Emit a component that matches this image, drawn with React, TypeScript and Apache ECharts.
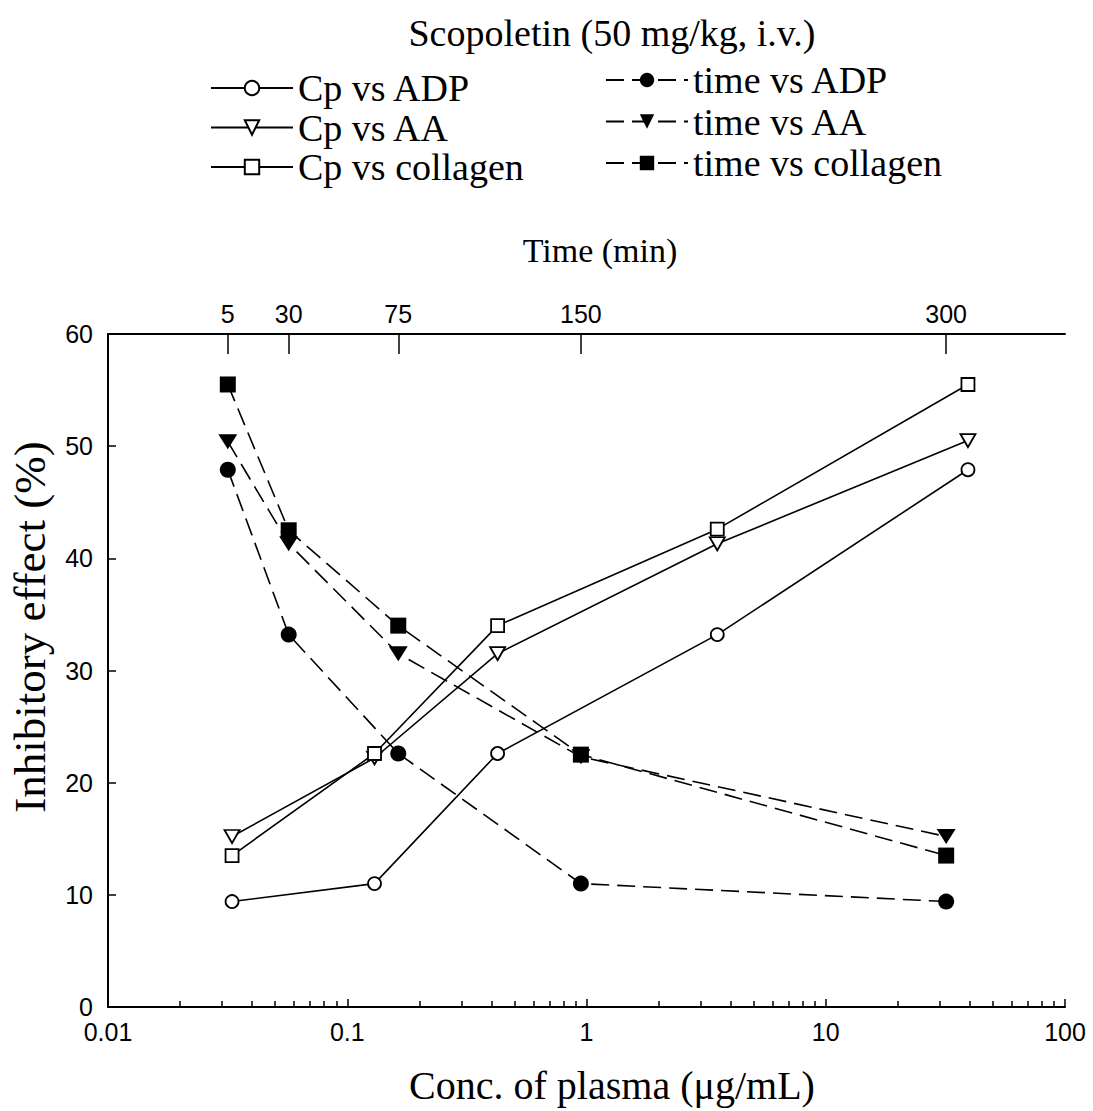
import React, { useEffect, useRef } from "react";
import * as echarts from "echarts";

// ---- data ----
const CONC = [0.033, 0.13, 0.425, 3.52, 39.3]; // plasma concentration (ug/mL)
const TIME = [5, 30, 75, 150, 300]; // min
const CP_ADP = [9.4, 11.0, 22.6, 33.2, 47.9];
const CP_AA = [15.2, 22.2, 31.5, 41.3, 50.5];
const CP_COLLAGEN = [13.5, 22.6, 34.0, 42.6, 55.5];
const TIME_ADP = [47.9, 33.2, 22.6, 11.0, 9.4];
const TIME_AA = [50.4, 41.3, 31.5, 22.3, 15.2];
const TIME_COLLAGEN = [55.5, 42.5, 34.0, 22.5, 13.5];

const X_TICK_LABELS = ["0.01", "0.1", "1", "10", "100"];
const TIME_TICKS = [5, 30, 75, 150, 300];
const DECADES = [0.01, 0.1, 1, 10];
const MINOR_MULTIPLIERS = [2, 3, 4, 5, 6, 7, 8, 9];

const TITLE = "Scopoletin (50 mg/kg, i.v.)";
const X_TITLE = "Conc. of plasma (\u03bcg/mL)";
const X2_TITLE = "Time (min)";
const Y_TITLE = "Inhibitory effect (%)";

const SERIF = '"Liberation Serif", "Times New Roman", serif';
const SANS = '"Liberation Sans", Arial, sans-serif';

export default function App() {
  const ref = useRef<HTMLDivElement>(null);
  useEffect(() => {
    if (!ref.current) return;
    const chart = echarts.init(ref.current, undefined, { renderer: "svg" });
    const axisLine = { show: true, onZero: false, lineStyle: { color: "#000", width: 2 } };
    const tickStyle = { color: "#000", width: 1.5 };
    const labelStyle = { color: "#000", fontSize: 25, fontFamily: SANS };
    const minorTicks = DECADES.flatMap((d) => MINOR_MULTIPLIERS.map((m) => Math.log10(d * m)));

    const pair = (xs: number[], ys: number[]) => xs.map((x, i) => [x, ys[i]]);

    const openStyle = { color: "#fff", borderColor: "#000", borderWidth: 1.8 };
    const solid = { color: "#000", width: 1.6, type: "solid" as const };
    const dashed = { color: "#000", width: 1.6, type: [18, 8] as any };

    const cpSeries = (name: string, ys: number[], symbol: string, size: any, rot = 0) => ({
      name,
      type: "line",
      xAxisIndex: 0,
      yAxisIndex: 0,
      data: pair(CONC, ys),
      symbol,
      symbolSize: size,
      symbolRotate: rot,
      showSymbol: true,
      lineStyle: solid,
      itemStyle: openStyle,
      z: 3,
    });
    const timeSeries = (name: string, ys: number[], symbol: string, size: any, rot = 0) => ({
      name,
      type: "line",
      xAxisIndex: 1,
      yAxisIndex: 0,
      data: pair(TIME, ys),
      symbol,
      symbolSize: size,
      symbolRotate: rot,
      showSymbol: true,
      lineStyle: dashed,
      itemStyle: { color: "#000", borderColor: "#000", borderWidth: 0 },
      z: 4,
    });

    const legendText = { fontFamily: SERIF, fontSize: 38, lineHeight: 38, color: "#000" };

    chart.setOption({
      animation: false,
      backgroundColor: "#fff",
      grid: { left: 108, right: 28, top: 334, bottom: 104, containLabel: false },
      legend: [
        {
          orient: "vertical",
          left: 210,
          top: 69,
          padding: 0,
          itemWidth: 82,
          itemHeight: 18,
          itemGap: 1.5,
          selectedMode: false,
          data: ["Cp vs ADP", "Cp vs AA", "Cp vs collagen"],
          textStyle: legendText,
        },
        {
          orient: "vertical",
          left: 605,
          top: 61,
          padding: 0,
          itemWidth: 82,
          itemHeight: 18,
          itemGap: 3.5,
          selectedMode: false,
          data: ["time vs ADP", "time vs AA", "time vs collagen"],
          textStyle: legendText,
        },
      ],
      xAxis: [
        {
          type: "log",
          logBase: 10,
          min: 0.01,
          max: 100,
          position: "bottom",
          axisLine,
          axisTick: { show: true, inside: true, length: 8, lineStyle: tickStyle },
          axisLabel: {
            ...labelStyle,
            margin: 12,
            formatter: (v: number) => X_TICK_LABELS[Math.round(Math.log10(v)) + 2] ?? "",
          },
          splitLine: { show: false },
          minorTick: { show: false },
        },
        {
          type: "value",
          min: -44.2,
          max: 348.8,
          position: "top",
          axisLine,
          axisTick: { show: true, inside: true, length: 20, lineStyle: tickStyle, customValues: TIME_TICKS },
          axisLabel: { ...labelStyle, margin: 8, customValues: TIME_TICKS },
          splitLine: { show: false },
        },
        {
          type: "value",
          min: -2,
          max: 2,
          position: "bottom",
          axisLine: { show: false, onZero: false },
          axisTick: { show: true, inside: true, length: 6, lineStyle: tickStyle, customValues: minorTicks },
          axisLabel: { show: false },
          splitLine: { show: false },
        },
      ],
      yAxis: [
        {
          type: "value",
          min: 0,
          max: 60,
          interval: 10,
          axisLine,
          axisTick: { show: true, inside: true, length: 8, lineStyle: tickStyle },
          axisLabel: { ...labelStyle, margin: 15 },
          splitLine: { show: false },
        },
      ],
      graphic: [
        {
          type: "text",
          x: 612,
          y: 33,
          style: { text: TITLE, fill: "#000", font: `38px ${SERIF}`, textAlign: "center", textVerticalAlign: "middle", align: "center", verticalAlign: "middle" },
        },
        {
          type: "text",
          x: 600,
          y: 250,
          style: { text: X2_TITLE, fill: "#000", font: `34px ${SERIF}`, textAlign: "center", textVerticalAlign: "middle", align: "center", verticalAlign: "middle" },
        },
        {
          type: "text",
          x: 612,
          y: 1085,
          style: { text: X_TITLE, fill: "#000", font: `40px ${SERIF}`, textAlign: "center", textVerticalAlign: "middle", align: "center", verticalAlign: "middle" },
        },
        {
          type: "text",
          x: 30,
          y: 627,
          rotation: Math.PI / 2,
          style: { text: Y_TITLE, fill: "#000", font: `45px ${SERIF}`, textAlign: "center", textVerticalAlign: "middle", align: "center", verticalAlign: "middle" },
        },
      ],
      series: [
        cpSeries("Cp vs ADP", CP_ADP, "circle", 13),
        cpSeries("Cp vs AA", CP_AA, "triangle", [15, 13], 180),
        cpSeries("Cp vs collagen", CP_COLLAGEN, "rect", 13),
        timeSeries("time vs ADP", TIME_ADP, "circle", 16),
        timeSeries("time vs AA", TIME_AA, "triangle", [19, 15], 180),
        timeSeries("time vs collagen", TIME_COLLAGEN, "rect", 16),
      ],
    });
    return () => chart.dispose();
  }, []);
  return (
    <div
      ref={ref}
      style={{ position: "absolute", left: 0, top: 0, width: 1093, height: 1111, background: "#fff" }}
    />
  );
}
